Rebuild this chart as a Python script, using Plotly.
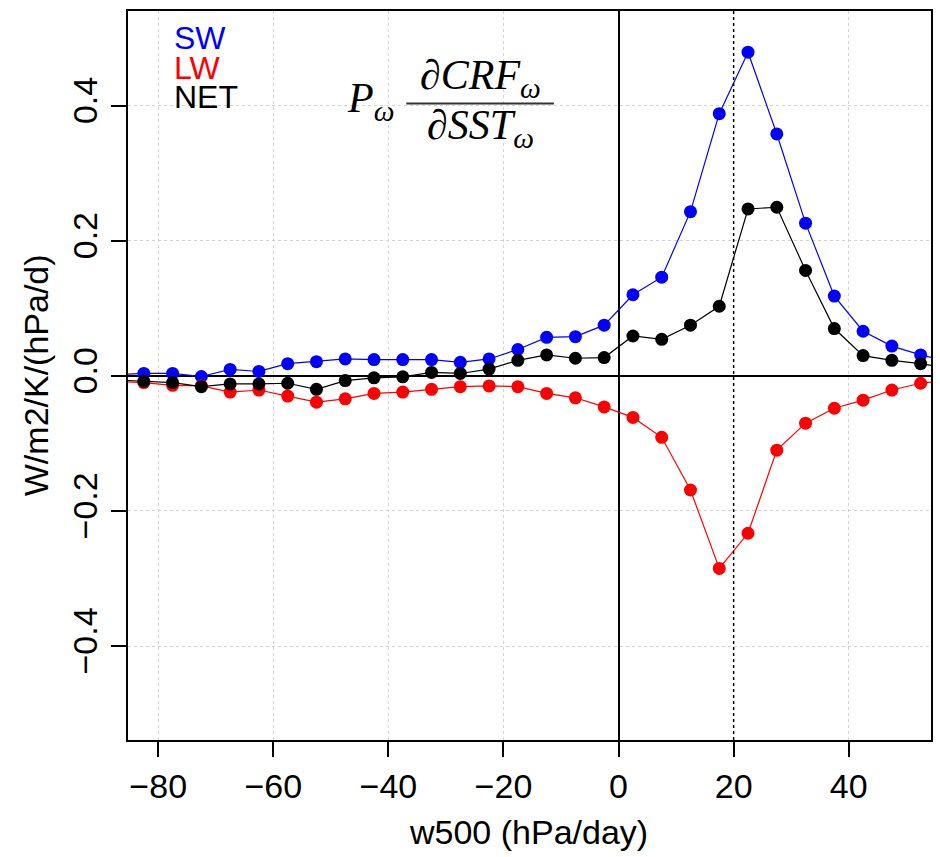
import plotly.graph_objects as go

# Vertical velocity bins at 500 hPa (hPa/day); the outer two bins fall just outside the axis range
w500 = [-87.5, -82.5, -77.5, -72.5, -67.5, -62.5, -57.5, -52.5, -47.5, -42.5,
        -37.5, -32.5, -27.5, -22.5, -17.5, -12.5, -7.5, -2.5, 2.5, 7.5,
        12.5, 17.5, 22.5, 27.5, 32.5, 37.5, 42.5, 47.5, 52.5, 57.5]

# Weighted CRF sensitivity per regime, W/m2/K/(hPa/d)
sw = [0.002, 0.0035, 0.0035, -0.001, 0.0095, 0.0065, 0.018, 0.021, 0.025, 0.024,
      0.024, 0.024, 0.020, 0.025, 0.039, 0.057, 0.058, 0.075, 0.120, 0.146,
      0.243, 0.388, 0.479, 0.358, 0.226, 0.118, 0.066, 0.044, 0.031, 0.021]
lw = [-0.008, -0.010, -0.014, -0.015, -0.024, -0.021, -0.030, -0.039, -0.034, -0.026,
      -0.024, -0.020, -0.016, -0.015, -0.016, -0.026, -0.0325, -0.046, -0.0615, -0.091,
      -0.169, -0.285, -0.233, -0.110, -0.070, -0.048, -0.036, -0.021, -0.011, -0.0066]
net = [-0.006, -0.008, -0.010, -0.016, -0.012, -0.012, -0.011, -0.020, -0.007, -0.003,
       -0.0015, 0.005, 0.0035, 0.010, 0.023, 0.031, 0.026, 0.027, 0.059, 0.054,
       0.075, 0.103, 0.247, 0.2495, 0.156, 0.070, 0.030, 0.023, 0.018, 0.011]

series = [("SW", sw, "#0000FF"), ("LW", lw, "#FF0000"), ("NET", net, "#000000")]

x_ticks = [-80, -60, -40, -20, 0, 20, 40]
y_ticks = [-0.4, -0.2, 0.0, 0.2, 0.4]
y_tick_text = ["\u22120.4", "\u22120.2", "0.0", "0.2", "0.4"]
x_tick_text = ["\u221280", "\u221260", "\u221240", "\u221220", "0", "20", "40"]

W, H = 940, 857
L, R, T, B = 128, 933, 11, 740


def px(xp):
    return (xp - L) / (R - L)


def py(yp):
    return (B - yp) / (B - T)


SANS = "Liberation Sans, Arial, sans-serif"
SERIF = "Liberation Serif, Times New Roman, serif"

fig = go.Figure()
for name, vals, col in series:
    fig.add_trace(go.Scatter(
        x=w500, y=vals, mode="lines+markers", name=name,
        line=dict(color=col, width=1.2),
        marker=dict(color=col, size=13, line=dict(width=0)),
        showlegend=False, cliponaxis=True,
    ))

annotations = []
# legend-style coloured labels
for i, (name, _, col) in enumerate(series):
    annotations.append(dict(
        text=name, x=px(172), y=py(38 + 29.5 * i), xref="paper", yref="paper",
        xanchor="left", yanchor="middle", showarrow=False,
        font=dict(family=SANS, size=32, color=col)))

# P_w dCRF_w / dSST_w
annotations += [
    dict(text="<i>P</i><sub><i>\u03c9</i></sub>", x=px(346), y=py(101),
         xref="paper", yref="paper", xanchor="left", yanchor="middle",
         showarrow=False, font=dict(family=SERIF, size=42, color="black")),
    dict(text="<i>\u2202CRF</i><sub><i>\u03c9</i></sub>", x=px(481), y=py(78),
         xref="paper", yref="paper", xanchor="center", yanchor="middle",
         showarrow=False, font=dict(family=SERIF, size=42, color="black")),
    dict(text="<i>\u2202SST</i><sub><i>\u03c9</i></sub>", x=px(481), y=py(128),
         xref="paper", yref="paper", xanchor="center", yanchor="middle",
         showarrow=False, font=dict(family=SERIF, size=42, color="black")),
]

# axis titles
annotations += [
    dict(text="w500 (hPa/day)", x=px(529), y=py(832), xref="paper", yref="paper",
         xanchor="center", yanchor="middle", showarrow=False,
         font=dict(family=SANS, size=34, color="black")),
    dict(text="W/m2/K/(hPa/d)", x=px(36), y=py(375), xref="paper", yref="paper",
         xanchor="center", yanchor="middle", showarrow=False, textangle=-90,
         font=dict(family=SANS, size=34, color="black")),
]

shapes = [
    # fraction bar
    dict(type="line", xref="paper", yref="paper", x0=px(407), x1=px(555),
         y0=py(103.5), y1=py(103.5), line=dict(color="#333333", width=2)),
    # dotted reference line at 20 hPa/day
    dict(type="line", xref="x", yref="paper", x0=20, x1=20, y0=0, y1=1,
         layer="above", line=dict(color="black", width=1.5, dash="dot")),
]

axis_common = dict(
    showline=True, linecolor="black", linewidth=2, mirror=True,
    ticks="outside", ticklen=15, tickwidth=1.5, tickcolor="black",
    showgrid=True, gridcolor="#D3D3D3", griddash="dot", gridwidth=1.2,
    zeroline=True, zerolinecolor="black", zerolinewidth=1.5,
    tickfont=dict(family=SANS, size=34, color="black"),
)

fig.update_layout(
    width=W, height=H,
    margin=dict(l=L, r=W - R, t=T, b=H - B, pad=0),
    paper_bgcolor="white", plot_bgcolor="white",
    xaxis=dict(range=[-85.25, 54.3], tickvals=x_ticks, ticktext=x_tick_text,
               **axis_common),
    yaxis=dict(range=[-0.539, 0.540], tickvals=y_ticks, ticktext=y_tick_text,
               tickangle=-90, **axis_common),
    annotations=annotations, shapes=shapes,
)

fig.write_html("out.html")
